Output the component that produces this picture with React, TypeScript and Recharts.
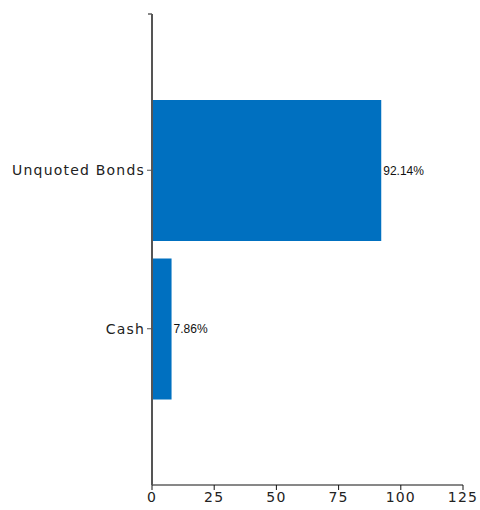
import { BarChart, Bar, XAxis, YAxis, LabelList } from 'recharts'

const categories = ['Unquoted Bonds', 'Cash']
const weights = [92.14, 7.86]
const xTicks = [0, 25, 50, 75, 100, 125]

const data = categories.map((name, i) => ({ name, value: weights[i] }))

const tickFont = { fontFamily: 'DejaVu Sans', fontSize: 14, fill: '#222', letterSpacing: 1.2 }

export default function App() {
    return (
        <div style={{ position: 'absolute', left: 0, top: 0, width: 480, height: 510, background: '#fff' }}>
            <BarChart
                width={480}
                height={510}
                data={data}
                layout="vertical"
                margin={{ top: 14, right: 17, left: 0, bottom: 0 }}
            >
                <XAxis
                    type="number"
                    domain={[0, 125]}
                    ticks={xTicks}
                    height={25}
                    tick={tickFont}
                    tickSize={5}
                    tickMargin={2}
                    stroke="#111"
                    axisLine={{ stroke: '#111' }}
                />
                <YAxis
                    type="category"
                    dataKey="name"
                    width={152}
                    padding={{ top: 77, bottom: 77 }}
                    tick={tickFont}
                    tickSize={5}
                    tickMargin={2}
                    stroke="#555"
                    axisLine={{ stroke: '#555', strokeWidth: 2 }}
                />
                <Bar dataKey="value" fill="#0070C0" barSize={141} isAnimationActive={false}>
                    <LabelList
                        dataKey="value"
                        position="right"
                        offset={2}
                        formatter={(v: number) => `${v.toFixed(2)}%`}
                        style={{ fontFamily: 'Liberation Sans', fontSize: 12, fill: '#111' }}
                    />
                </Bar>
                <line x1={148} y1={14} x2={152} y2={14} stroke="#111" strokeWidth={1} />
            </BarChart>
        </div>
    )
}
